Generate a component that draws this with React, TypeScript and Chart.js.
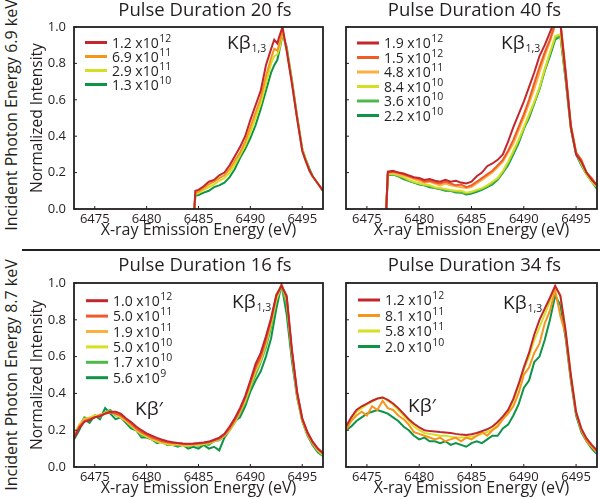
import React, { useEffect, useRef } from "react";
import { Chart, registerables } from "chart.js";

Chart.register(...registerables);

const FONT = "'Open Sans', 'DejaVu Sans', sans-serif";
const INK = "#231f20";

// ---------- axes ----------
const X_MIN = 6473;
const X_MAX = 6497;
const X_TICKS = [6475, 6480, 6485, 6490, 6495];
const Y_TICKS = [0, 0.2, 0.4, 0.6, 0.8, 1.0];
const X_TITLE = "X-ray Emission Energy (eV)";
const Y_TITLE = "Normalized Intensity";
const ROW_LABEL_TOP = "Incident Photon Energy 6.9 keV";
const ROW_LABEL_BOTTOM = "Incident Photon Energy 8.7 keV";
const PEAK_MAIN = "Kβ";
const PEAK_SUB = "1,3";
const PEAK_SAT = "Kβ′";

// ---------- colours ----------
const RED = "#c1272d";
const ORANGE_RED = "#f15a29";
const ORANGE = "#f7941d";
const LIGHT_ORANGE = "#fbb040";
const YELLOW = "#d7df23";
const LIGHT_GREEN = "#4fb848";
const DARK_GREEN = "#0f9347";

// ---------- Panel A: 6.9 keV, 20 fs ----------
const titleA = "Pulse Duration 20 fs";
const fluenceA = ["1.2 x10^12", "6.9 x10^11", "2.9 x10^11", "1.3 x10^10"];
const energyA = [6484.6, 6484.7, 6485, 6485.5, 6486, 6486.5, 6487, 6487.5, 6488, 6488.5, 6489, 6489.5, 6490, 6490.5, 6491, 6491.5, 6492, 6492.3, 6492.6, 6492.8, 6493.1, 6493.5, 6494, 6494.5, 6495, 6495.3, 6495.7, 6496, 6496.5, 6497];
const a1 = [0, 0.10, 0.105, 0.125, 0.15, 0.16, 0.185, 0.20, 0.24, 0.29, 0.34, 0.40, 0.49, 0.57, 0.65, 0.79, 0.88, 0.93, 0.91, 0.95, 1.0, 0.87, 0.69, 0.50, 0.32, 0.27, 0.21, 0.18, 0.14, 0.10];
const a2 = [0, 0.09, 0.095, 0.115, 0.135, 0.15, 0.17, 0.185, 0.22, 0.265, 0.31, 0.37, 0.45, 0.53, 0.61, 0.73, 0.83, 0.88, 0.87, 0.91, 0.98, 0.87, 0.70, 0.50, 0.32, 0.27, 0.21, 0.18, 0.14, 0.10];
const a3 = [0, 0.083, 0.088, 0.105, 0.12, 0.135, 0.155, 0.17, 0.20, 0.245, 0.295, 0.35, 0.42, 0.50, 0.58, 0.69, 0.80, 0.84, 0.85, 0.88, 0.97, 0.88, 0.70, 0.51, 0.33, 0.28, 0.21, 0.18, 0.14, 0.10];
const a4 = [0, 0.072, 0.077, 0.09, 0.10, 0.12, 0.13, 0.145, 0.175, 0.22, 0.28, 0.33, 0.39, 0.46, 0.55, 0.65, 0.75, 0.79, 0.82, 0.87, 0.96, 0.89, 0.71, 0.51, 0.33, 0.28, 0.22, 0.18, 0.14, 0.10];

// ---------- Panel B: 6.9 keV, 40 fs ----------
const titleB = "Pulse Duration 40 fs";
const fluenceB = ["1.9 x10^12", "1.5 x10^12", "4.8 x10^11", "8.4 x10^10", "3.6 x10^10", "2.2 x10^10"];
const energyB = [6476.85, 6477, 6477.5, 6478, 6478.5, 6479, 6479.5, 6480, 6480.5, 6481, 6481.5, 6482, 6482.5, 6483, 6483.5, 6484, 6484.5, 6485, 6485.5, 6486, 6486.5, 6487, 6487.5, 6488, 6488.5, 6489, 6489.5, 6490, 6490.5, 6491, 6491.5, 6492, 6492.5, 6493, 6493.5, 6494, 6494.5, 6495, 6495.5, 6496, 6496.5, 6497];
const b1 = [0, 0.205, 0.21, 0.20, 0.195, 0.185, 0.175, 0.17, 0.16, 0.165, 0.155, 0.15, 0.16, 0.15, 0.155, 0.145, 0.14, 0.15, 0.18, 0.20, 0.235, 0.25, 0.27, 0.30, 0.37, 0.45, 0.52, 0.59, 0.67, 0.75, 0.84, 0.90, 0.97, 1.04, 1.02, 0.74, 0.45, 0.30, 0.26, 0.20, 0.16, 0.13];
const b2 = [0, 0.20, 0.205, 0.20, 0.19, 0.18, 0.17, 0.165, 0.15, 0.155, 0.145, 0.14, 0.15, 0.14, 0.13, 0.135, 0.12, 0.13, 0.15, 0.17, 0.19, 0.21, 0.24, 0.27, 0.32, 0.38, 0.45, 0.52, 0.60, 0.69, 0.78, 0.86, 0.93, 1.02, 1.03, 0.76, 0.46, 0.31, 0.27, 0.20, 0.17, 0.13];
const b3 = [0, 0.195, 0.20, 0.19, 0.185, 0.175, 0.165, 0.155, 0.145, 0.15, 0.14, 0.13, 0.14, 0.13, 0.125, 0.12, 0.115, 0.12, 0.14, 0.16, 0.18, 0.20, 0.23, 0.26, 0.31, 0.36, 0.43, 0.50, 0.58, 0.66, 0.75, 0.84, 0.92, 1.01, 1.02, 0.75, 0.46, 0.31, 0.26, 0.20, 0.16, 0.13];
const b4 = [0, 0.19, 0.195, 0.185, 0.175, 0.16, 0.15, 0.14, 0.135, 0.13, 0.12, 0.115, 0.11, 0.105, 0.10, 0.10, 0.09, 0.095, 0.105, 0.115, 0.13, 0.15, 0.17, 0.21, 0.26, 0.32, 0.38, 0.45, 0.52, 0.59, 0.67, 0.77, 0.86, 0.95, 0.96, 0.73, 0.45, 0.31, 0.25, 0.19, 0.15, 0.12];
const b5 = [0, 0.19, 0.19, 0.18, 0.17, 0.155, 0.145, 0.14, 0.13, 0.125, 0.115, 0.11, 0.105, 0.10, 0.095, 0.09, 0.085, 0.09, 0.10, 0.11, 0.125, 0.14, 0.165, 0.20, 0.25, 0.31, 0.37, 0.44, 0.51, 0.58, 0.66, 0.76, 0.85, 0.94, 0.95, 0.72, 0.45, 0.31, 0.25, 0.19, 0.15, 0.12];
const b6 = [0, 0.185, 0.19, 0.18, 0.165, 0.155, 0.145, 0.135, 0.13, 0.12, 0.115, 0.11, 0.10, 0.10, 0.09, 0.09, 0.08, 0.085, 0.095, 0.105, 0.12, 0.135, 0.16, 0.20, 0.24, 0.30, 0.36, 0.44, 0.50, 0.58, 0.66, 0.76, 0.84, 0.93, 0.95, 0.71, 0.44, 0.30, 0.24, 0.19, 0.15, 0.11];

// ---------- Panel C: 8.7 keV, 16 fs ----------
const titleC = "Pulse Duration 16 fs";
const fluenceC = ["1.0 x10^12", "5.0 x10^11", "1.9 x10^11", "5.0 x10^10", "1.7 x10^10", "5.6 x10^9"];
const energyC = [6473, 6473.5, 6474, 6474.5, 6475, 6475.5, 6476, 6476.5, 6477, 6477.5, 6478, 6478.5, 6479, 6479.5, 6480, 6480.5, 6481, 6481.5, 6482, 6482.5, 6483, 6483.5, 6484, 6484.5, 6485, 6485.5, 6486, 6486.5, 6487, 6487.5, 6488, 6488.5, 6489, 6489.5, 6490, 6490.5, 6491, 6491.5, 6492, 6492.5, 6493, 6493.5, 6494, 6494.5, 6495, 6495.5, 6496, 6496.5, 6497];
const c1 = [0.155, 0.21, 0.245, 0.255, 0.27, 0.275, 0.29, 0.30, 0.30, 0.29, 0.265, 0.245, 0.22, 0.20, 0.183, 0.17, 0.158, 0.148, 0.14, 0.135, 0.13, 0.128, 0.127, 0.128, 0.13, 0.133, 0.138, 0.148, 0.16, 0.18, 0.22, 0.265, 0.32, 0.385, 0.47, 0.56, 0.62, 0.71, 0.81, 0.935, 0.985, 0.93, 0.64, 0.41, 0.265, 0.19, 0.138, 0.10, 0.075];
const c2 = [0.16, 0.22, 0.25, 0.26, 0.27, 0.28, 0.29, 0.295, 0.29, 0.28, 0.26, 0.235, 0.21, 0.19, 0.175, 0.16, 0.15, 0.14, 0.135, 0.13, 0.13, 0.125, 0.125, 0.125, 0.128, 0.13, 0.135, 0.145, 0.155, 0.175, 0.21, 0.255, 0.31, 0.375, 0.46, 0.54, 0.60, 0.69, 0.80, 0.93, 0.99, 0.92, 0.63, 0.40, 0.26, 0.185, 0.135, 0.10, 0.073];
const c3 = [0.17, 0.22, 0.26, 0.265, 0.27, 0.285, 0.29, 0.30, 0.29, 0.275, 0.25, 0.23, 0.205, 0.185, 0.17, 0.155, 0.145, 0.135, 0.13, 0.125, 0.125, 0.12, 0.12, 0.12, 0.125, 0.13, 0.135, 0.14, 0.15, 0.17, 0.205, 0.25, 0.30, 0.37, 0.45, 0.53, 0.59, 0.68, 0.79, 0.92, 0.99, 0.92, 0.63, 0.40, 0.26, 0.18, 0.13, 0.095, 0.07];
const c4 = [0.17, 0.23, 0.26, 0.27, 0.28, 0.28, 0.295, 0.30, 0.285, 0.27, 0.25, 0.225, 0.20, 0.18, 0.165, 0.15, 0.14, 0.13, 0.125, 0.12, 0.125, 0.115, 0.115, 0.12, 0.12, 0.125, 0.13, 0.14, 0.15, 0.17, 0.20, 0.245, 0.30, 0.36, 0.44, 0.52, 0.58, 0.67, 0.78, 0.91, 0.99, 0.91, 0.62, 0.39, 0.25, 0.18, 0.13, 0.09, 0.065];
const c5 = [0.16, 0.22, 0.27, 0.26, 0.28, 0.27, 0.30, 0.31, 0.28, 0.28, 0.25, 0.22, 0.20, 0.17, 0.165, 0.15, 0.135, 0.135, 0.12, 0.12, 0.115, 0.12, 0.11, 0.12, 0.115, 0.125, 0.12, 0.14, 0.145, 0.17, 0.20, 0.24, 0.29, 0.35, 0.43, 0.50, 0.57, 0.65, 0.76, 0.90, 0.98, 0.88, 0.61, 0.39, 0.25, 0.17, 0.12, 0.085, 0.06];
const c6 = [0.15, 0.20, 0.26, 0.24, 0.28, 0.26, 0.32, 0.29, 0.26, 0.27, 0.24, 0.21, 0.20, 0.16, 0.16, 0.15, 0.13, 0.14, 0.12, 0.12, 0.11, 0.12, 0.10, 0.11, 0.10, 0.12, 0.10, 0.11, 0.09, 0.16, 0.20, 0.25, 0.27, 0.33, 0.41, 0.47, 0.52, 0.60, 0.70, 0.86, 0.99, 0.83, 0.58, 0.38, 0.25, 0.18, 0.12, 0.08, 0.06];

// ---------- Panel D: 8.7 keV, 34 fs ----------
const titleD = "Pulse Duration 34 fs";
const fluenceD = ["1.2 x10^12", "8.1 x10^11", "5.8 x10^11", "2.0 x10^10"];
const energyD = [6473, 6473.5, 6474, 6474.5, 6475, 6475.5, 6476, 6476.5, 6477, 6477.5, 6478, 6478.5, 6479, 6479.5, 6480, 6480.5, 6481, 6481.5, 6482, 6482.5, 6483, 6483.5, 6484, 6484.5, 6485, 6485.5, 6486, 6486.5, 6487, 6487.5, 6488, 6488.5, 6489, 6489.5, 6490, 6490.5, 6491, 6491.5, 6492, 6492.5, 6493, 6493.5, 6494, 6494.5, 6495, 6495.5, 6496, 6496.5, 6497];
const d1 = [0.22, 0.27, 0.31, 0.33, 0.345, 0.36, 0.372, 0.378, 0.365, 0.345, 0.32, 0.29, 0.26, 0.235, 0.215, 0.20, 0.195, 0.193, 0.19, 0.188, 0.185, 0.18, 0.176, 0.174, 0.178, 0.185, 0.195, 0.205, 0.22, 0.245, 0.275, 0.31, 0.37, 0.45, 0.54, 0.62, 0.72, 0.80, 0.86, 0.92, 0.985, 0.93, 0.74, 0.50, 0.30, 0.21, 0.155, 0.12, 0.09];
const d2 = [0.20, 0.25, 0.28, 0.30, 0.28, 0.33, 0.31, 0.36, 0.32, 0.31, 0.28, 0.26, 0.23, 0.19, 0.18, 0.17, 0.16, 0.15, 0.16, 0.14, 0.15, 0.16, 0.14, 0.16, 0.15, 0.17, 0.19, 0.17, 0.20, 0.22, 0.26, 0.29, 0.33, 0.40, 0.50, 0.54, 0.62, 0.67, 0.78, 0.85, 0.96, 0.82, 0.72, 0.48, 0.29, 0.20, 0.14, 0.11, 0.08];
const d3 = [0.21, 0.26, 0.30, 0.32, 0.34, 0.355, 0.37, 0.38, 0.36, 0.34, 0.31, 0.28, 0.25, 0.22, 0.20, 0.185, 0.18, 0.175, 0.17, 0.17, 0.165, 0.16, 0.16, 0.16, 0.165, 0.17, 0.18, 0.19, 0.205, 0.23, 0.26, 0.30, 0.36, 0.44, 0.53, 0.60, 0.69, 0.76, 0.83, 0.90, 0.98, 0.93, 0.74, 0.50, 0.30, 0.20, 0.15, 0.11, 0.08];
const d4 = [0.20, 0.22, 0.25, 0.27, 0.29, 0.30, 0.31, 0.30, 0.29, 0.27, 0.25, 0.22, 0.20, 0.17, 0.15, 0.16, 0.14, 0.14, 0.13, 0.14, 0.12, 0.13, 0.12, 0.11, 0.13, 0.14, 0.13, 0.15, 0.17, 0.17, 0.21, 0.23, 0.28, 0.34, 0.43, 0.47, 0.57, 0.60, 0.69, 0.80, 0.93, 0.88, 0.70, 0.47, 0.28, 0.19, 0.14, 0.10, 0.07];

type Panel = {
  title: string;
  energy: number[];
  series: number[][];
  labels: string[];
  colors: string[];
  showY: boolean;
  box: { x: number; y: number; w: number; h: number };
  yWidth: number;
  rightSpace: number;
  titlePadBottom: number;
  legend: { dx: number; dy: number; step: number };
  peak: { dx: number; dy: number };
  sat: { dx: number; dy: number } | null;
};

const PANELS: Panel[] = [
  {
    title: titleA, energy: energyA, series: [a1, a2, a3, a4], labels: fluenceA,
    colors: [RED, ORANGE, YELLOW, DARK_GREEN], showY: true,
    box: { x: 24, y: 0, w: 362, h: 241 }, yWidth: 50, rightSpace: 63, titlePadBottom: 6,
    legend: { dx: 11, dy: 15.5, step: 14 }, peak: { dx: 153, dy: 22 }, sat: null,
  },
  {
    title: titleB, energy: energyB, series: [b1, b2, b3, b4, b5, b6], labels: fluenceB,
    colors: [RED, ORANGE_RED, LIGHT_ORANGE, YELLOW, LIGHT_GREEN, DARK_GREEN], showY: false,
    box: { x: 326, y: 0, w: 297, h: 241 }, yWidth: 20, rightSpace: 26, titlePadBottom: 6,
    legend: { dx: 11, dy: 16, step: 14.5 }, peak: { dx: 155, dy: 22 }, sat: null,
  },
  {
    title: titleC, energy: energyC, series: [c1, c2, c3, c4, c5, c6], labels: fluenceC,
    colors: [RED, ORANGE_RED, LIGHT_ORANGE, YELLOW, LIGHT_GREEN, DARK_GREEN], showY: true,
    box: { x: 24, y: 255, w: 362, h: 244 }, yWidth: 50, rightSpace: 63, titlePadBottom: 7,
    legend: { dx: 12, dy: 17.7, step: 15.4 }, peak: { dx: 158, dy: 25 }, sat: { dx: 61, dy: 132 },
  },
  {
    title: titleD, energy: energyD, series: [d1, d2, d3, d4], labels: fluenceD,
    colors: [RED, ORANGE, YELLOW, DARK_GREEN], showY: false,
    box: { x: 326, y: 255, w: 297, h: 244 }, yWidth: 20, rightSpace: 26, titlePadBottom: 7,
    legend: { dx: 12, dy: 17, step: 15.5 }, peak: { dx: 157, dy: 26 }, sat: { dx: 62, dy: 129 },
  },
];

function decorPlugin(p: Panel) {
  return {
    id: "decor",
    afterDatasetsDraw(chart: any) {
      const { ctx, chartArea: a, scales } = chart;
      ctx.save();
      // frame
      ctx.strokeStyle = INK;
      ctx.lineWidth = 1.8;
      ctx.strokeRect(a.left, a.top, a.right - a.left, a.bottom - a.top);
      // inward tick marks
      ctx.lineWidth = 1;
      X_TICKS.forEach((v) => {
        const px = scales.x.getPixelForValue(v);
        ctx.beginPath();
        ctx.moveTo(px, a.bottom);
        ctx.lineTo(px, a.bottom - 3);
        ctx.stroke();
      });
      Y_TICKS.forEach((v) => {
        const py = scales.y.getPixelForValue(v);
        ctx.beginPath();
        ctx.moveTo(a.left, py);
        ctx.lineTo(a.left + 3, py);
        ctx.stroke();
      });
      // legend
      ctx.fillStyle = INK;
      p.labels.forEach((lab, i) => {
        const y = a.top + p.legend.dy + i * p.legend.step;
        const x0 = a.left + p.legend.dx;
        ctx.strokeStyle = p.colors[i];
        ctx.lineWidth = 3;
        ctx.beginPath();
        ctx.moveTo(x0, y);
        ctx.lineTo(x0 + 22, y);
        ctx.stroke();
        const [base, exp] = lab.split("^");
        ctx.font = `14px ${FONT}`;
        ctx.textBaseline = "alphabetic";
        ctx.textAlign = "left";
        const tx = x0 + 27;
        const by = y + 5;
        ctx.fillText(base, tx, by);
        const w = ctx.measureText(base).width;
        ctx.font = `10.5px ${FONT}`;
        ctx.fillText(exp, tx + w + 0.5, by - 6);
      });
      // peak labels
      ctx.font = `19px ${FONT}`;
      const px = a.left + p.peak.dx;
      const py = a.top + p.peak.dy;
      ctx.fillText(PEAK_MAIN, px, py);
      const pw = ctx.measureText(PEAK_MAIN).width;
      ctx.font = `10.5px ${FONT}`;
      ctx.fillText(PEAK_SUB, px + pw + 1, py + 3);
      if (p.sat) {
        ctx.font = `19px ${FONT}`;
        ctx.fillText(PEAK_SAT, a.left + p.sat.dx, a.top + p.sat.dy);
      }
      ctx.restore();
    },
  };
}

function makeConfig(p: Panel): any {
  return {
    type: "line",
    data: {
      datasets: p.series.map((vals, i) => ({
        label: p.labels[i],
        data: p.energy.map((x, j) => ({ x, y: vals[j] })),
        borderColor: p.colors[i],
        backgroundColor: p.colors[i],
        borderWidth: 2,
        pointRadius: 0,
        tension: 0,
        fill: false,
        yAxisID: "y",
      })),
    },
    options: {
      responsive: false,
      animation: false,
      events: [],
      layout: { padding: 0 },
      plugins: {
        legend: { display: false },
        tooltip: { enabled: false },
        title: {
          display: true,
          text: p.title,
          color: INK,
          fullSize: true,
          font: { family: FONT, size: 18.5, weight: "normal", lineHeight: "20px" },
          padding: { top: 1, bottom: p.titlePadBottom },
        },
      },
      scales: {
        x: {
          type: "linear",
          min: X_MIN,
          max: X_MAX,
          afterBuildTicks: (s: any) => { s.ticks = X_TICKS.map((v) => ({ value: v })); },
          afterFit: (s: any) => { s.height = 32; },
          grid: { display: false, drawTicks: false },
          border: { display: false },
          ticks: {
            color: INK, padding: 2, maxRotation: 0, autoSkip: false,
            font: { family: FONT, size: 13 },
            callback: (v: number) => String(v),
          },
          title: {
            display: true, text: X_TITLE, color: INK,
            font: { family: FONT, size: 16, lineHeight: 1.2 },
            padding: { top: 0, bottom: 1.4 },
          },
        },
        y: {
          type: "linear",
          position: "left",
          min: 0,
          max: 1,
          afterBuildTicks: (s: any) => { s.ticks = Y_TICKS.map((v) => ({ value: v })); },
          afterFit: (s: any) => { s.width = p.yWidth; },
          grid: { display: false, drawTicks: false },
          border: { display: false },
          ticks: {
            display: p.showY, color: INK, padding: 8,
            font: { family: FONT, size: 13 },
            callback: (v: number) => Number(v).toFixed(1),
          },
          title: {
            display: p.showY, text: Y_TITLE, color: INK,
            font: { family: FONT, size: 15.5, lineHeight: 1.2 },
            padding: { top: 4.7, bottom: 0 },
          },
        },
        // empty spacer on the right so the full-width title centres like the original
        yRight: {
          type: "linear",
          axis: "y",
          position: "right",
          min: 0,
          max: 1,
          afterFit: (s: any) => { s.width = p.rightSpace; },
          grid: { display: false, drawTicks: false },
          border: { display: false },
          ticks: { display: false },
          title: { display: false },
        },
      },
    },
    plugins: [decorPlugin(p)],
  };
}

function PanelChart({ p }: { p: Panel }) {
  const ref = useRef<HTMLCanvasElement | null>(null);
  useEffect(() => {
    if (!ref.current) return;
    const chart = new Chart(ref.current, makeConfig(p));
    return () => chart.destroy();
  }, [p]);
  return (
    <canvas
      ref={ref}
      width={p.box.w}
      height={p.box.h}
      style={{ position: "absolute", left: p.box.x, top: p.box.y, width: p.box.w, height: p.box.h }}
    />
  );
}

const rowLabelStyle = (cy: number): React.CSSProperties => ({
  position: "absolute",
  left: 11,
  top: cy,
  transform: "translate(-50%, -50%) rotate(-90deg)",
  whiteSpace: "nowrap",
  font: `16px ${FONT}`,
  color: INK,
  lineHeight: "20px",
});

export default function App() {
  return (
    <div style={{ position: "fixed", left: 0, top: 0, width: 600, height: 499, overflow: "hidden", background: "#fff" }}>
      {PANELS.map((p, i) => (
        <PanelChart key={i} p={p} />
      ))}
      <div style={{ position: "absolute", left: 22, top: 249, width: 578, height: 1.5, background: INK }} />
      <div style={rowLabelStyle(115)}>{ROW_LABEL_TOP}</div>
      <div style={rowLabelStyle(375)}>{ROW_LABEL_BOTTOM}</div>
    </div>
  );
}
